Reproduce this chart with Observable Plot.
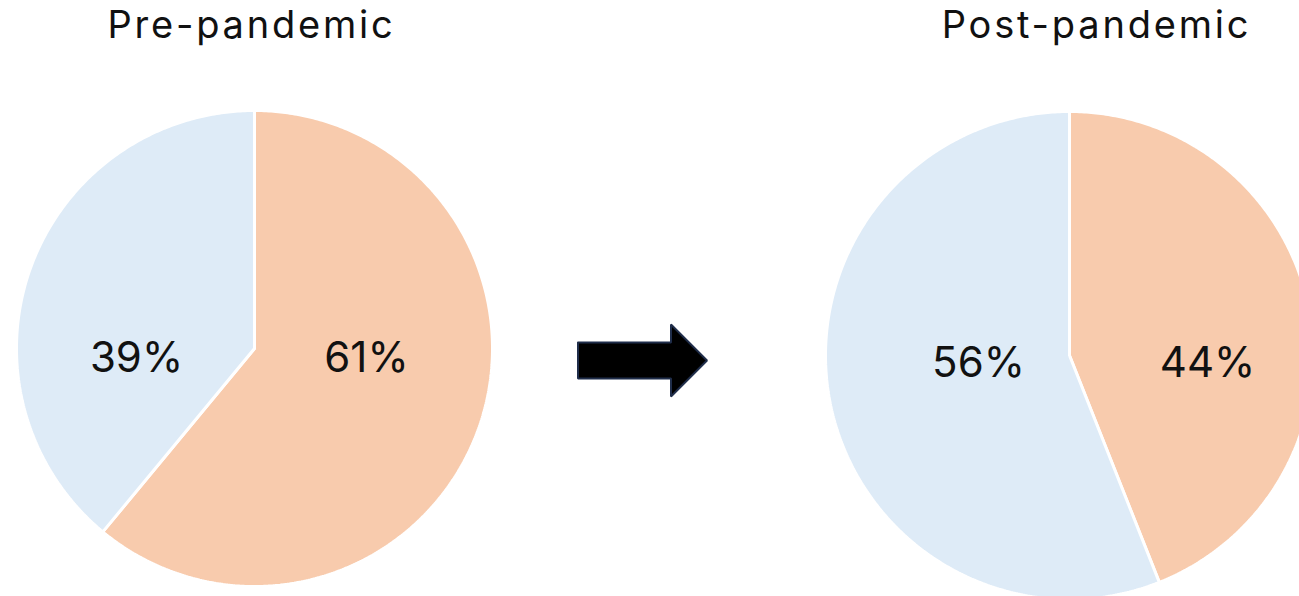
<!DOCTYPE html>
<html>
<head>
<meta charset="utf-8">
<script src="https://cdn.jsdelivr.net/npm/d3@7"></script>
<script src="https://cdn.jsdelivr.net/npm/@observablehq/plot@0.6"></script>
<style>
  html, body { margin: 0; padding: 0; background: #ffffff; }
  #chart svg { display: block; }
  #chart .title-text text { letter-spacing: 2.8px; }
</style>
</head>
<body>
<div id="chart"></div>
<script>
// ---- data ----
const categories = ["Segment A", "Segment B"];
const preValues = [61, 39];
const postValues = [44, 56];
const titles = ["Pre-pandemic", "Post-pandemic"];
const sliceColors = ["#F8CBAD", "#DEEBF7"];

// ---- layout ----
const W = 1299, H = 596;
const FONT = "Inter, Lato, sans-serif";
const layout = [
  {cx: 254, cy: 348, r: 238, titleX: 251, labelDx: [112, -118], labelY: 358},
  {cx: 1069, cy: 355, r: 244, titleX: 1096, labelDx: [138, -91], labelY: 363}
];
const titleY = 25;
const arrow = {cx: 642, cy: 360, len: 129, body: 36, head: 72, headLen: 36};

// build slice polygons from data with d3.pie
const pieGen = d3.pie().sort(null).value(d => d.value);
const slicePts = [];
const labels = [];
const titleRows = [];
[preValues, postValues].forEach((vals, pi) => {
  const L = layout[pi];
  const rows = categories.map((c, i) => ({category: c, value: vals[i]}));
  const arcs = pieGen(rows);
  arcs.forEach((a, i) => {
    const id = pi + "-" + i;
    const pts = [{id, category: a.data.category, x: L.cx, y: L.cy}];
    const n = Math.max(2, Math.ceil((a.endAngle - a.startAngle) / 0.01));
    for (let k = 0; k <= n; k++) {
      const t = a.startAngle + (a.endAngle - a.startAngle) * k / n;
      pts.push({id, category: a.data.category, x: L.cx + L.r * Math.sin(t), y: L.cy - L.r * Math.cos(t)});
    }
    pts.push({id, category: a.data.category, x: L.cx, y: L.cy});
    slicePts.push(...pts);
    labels.push({x: L.cx + L.labelDx[i], y: L.labelY, text: a.data.value + "%"});
  });
  titleRows.push({x: L.titleX, y: titleY, text: titles[pi]});
});

// arrow outline derived from its size parameters
const A = arrow;
const x0 = A.cx - A.len / 2, x1 = A.cx + A.len / 2, xh = x1 - A.headLen;
const arrowPts = [
  [x0, A.cy - A.body / 2], [xh, A.cy - A.body / 2], [xh, A.cy - A.head / 2],
  [x1, A.cy], [xh, A.cy + A.head / 2], [xh, A.cy + A.body / 2],
  [x0, A.cy + A.body / 2], [x0, A.cy - A.body / 2]
].map(([x, y]) => ({x, y}));

const chart = Plot.plot({
  width: W,
  height: H,
  margin: 0,
  x: {domain: [0, W], range: [0, W], axis: null},
  y: {domain: [0, H], range: [0, H], axis: null},
  color: {domain: categories, range: sliceColors},
  style: {fontFamily: FONT, background: "#ffffff"},
  marks: [
    Plot.line(slicePts, {x: "x", y: "y", z: "id", fill: "category", stroke: "#ffffff", strokeWidth: 3, strokeLinejoin: "miter"}),
    Plot.line(arrowPts, {x: "x", y: "y", fill: "#000000", stroke: "#1F2D4A", strokeWidth: 2, strokeLinejoin: "miter"}),
    Plot.text(labels, {x: "x", y: "y", text: "text", fontSize: 42, fill: "#111111", textAnchor: "middle", lineAnchor: "middle"}),
    Plot.text(titleRows, {x: "x", y: "y", text: "text", fontSize: 38, fill: "#111111", textAnchor: "middle", lineAnchor: "middle", className: "title-text"})
  ]
});
document.getElementById("chart").appendChild(chart);
</script>
</body>
</html>
